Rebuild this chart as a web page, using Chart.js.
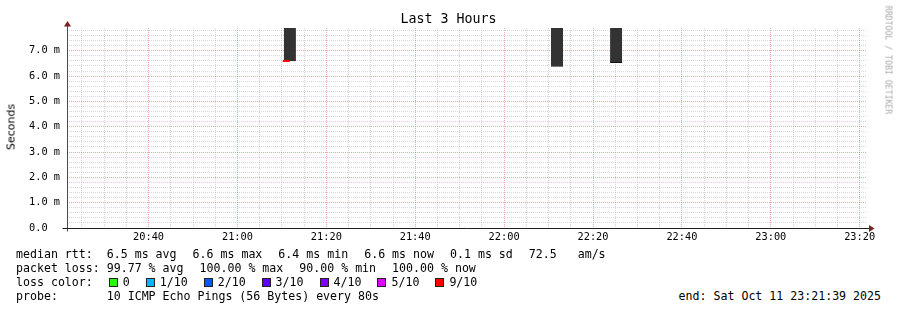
<!DOCTYPE html>
<html>
<head>
<meta charset="utf-8">
<title>Last 3 Hours</title>
<script src="https://cdn.jsdelivr.net/npm/chart.js@4.4.1/dist/chart.umd.min.js"></script>
<style>
  html, body { margin: 0; padding: 0; background: #fff; }
  #wrap { position: relative; width: 897px; height: 310px; overflow: hidden;
          font-family: "DejaVu Sans Mono", monospace; color: #000; }
  #plot { position: absolute; left: 0; top: 0; width: 897px; height: 250px; }
  #title { position: absolute; left: 0; top: 11px; width: 897px; text-align: center;
           font-size: 13.3px; line-height: 16px; white-space: pre; }
  #ylab { position: absolute; left: 11px; top: 127px; font-family: "DejaVu Sans", sans-serif;
          font-size: 11px; line-height: 13px; white-space: pre; color: #000;
          transform: translate(-50%, -50%) rotate(-90deg); }
  #mark { position: absolute; left: 888px; top: 60px; font-size: 8.2px; line-height: 9px;
          color: #a8a8a8; white-space: pre; transform: translate(-50%, -50%) rotate(90deg); }
  .row { position: absolute; left: 16px; display: flex; gap: 16px; font-size: 11.6px;
         line-height: 14px; white-space: pre; }
  .item { display: flex; align-items: center; }
  .box { width: 7px; height: 7px; border: 1px solid #222; margin-right: 5px; }
  #end { position: absolute; right: 16px; top: 289px; font-size: 11.6px; line-height: 14px; white-space: pre; }
</style>
</head>
<body>
<div id="wrap">
  <div id="plot"><canvas id="chart"></canvas></div>
  <div id="title">Last 3 Hours</div>
  <div id="ylab">Seconds</div>
  <div id="mark">RRDTOOL / TOBI OETIKER</div>
  <div class="row" id="rttRow" style="top:247px"></div>
  <div class="row" id="lossRow" style="top:261px"></div>
  <div class="row" id="colorRow" style="top:275px"></div>
  <div class="row" id="probeRow" style="top:289px"></div>
  <div id="end"></div>
</div>
<script>
// x values are minutes after 20:00, y values are seconds in ms
const X_MIN = 21 + 39 / 60;   // 20:21:39
const X_MAX = X_MIN + 180;    // 23:21:39
const Y_MAX = 7.9;

const X_TICK_VALUES = [40, 60, 80, 100, 120, 140, 160, 180, 200];
const X_TICK_LABELS = ["20:40","21:00","21:20","21:40","22:00","22:20","22:40","23:00","23:20"];
const Y_TICK_VALUES = [0, 1, 2, 3, 4, 5, 6, 7];
const Y_TICK_LABELS = ["0.0  ","1.0 m","2.0 m","3.0 m","4.0 m","5.0 m","6.0 m","7.0 m"];

// smoke (min..max of the pings in a step), top runs off the graph
const SMOKE_TIME = [71.8, 131.9, 145.2];
const SMOKE_LOW  = [6.6, 6.38, 6.53];
const SMOKE_HIGH = [8.0, 8.0, 8.0];
const SMOKE_EDGE = ["#333333", "#111111", "#111111"];

// median rtt, coloured by loss
const MEDIAN_TIME = [71.0];
const MEDIAN_RTT  = [6.6];
const MEDIAN_LOSS = ["#ff0000"];

const RTT_ITEMS  = ["median rtt:  6.5 ms avg", "6.6 ms max", "6.4 ms min", "6.6 ms now", "0.1 ms sd", "72.5   am/s"];
const LOSS_ITEMS = ["packet loss: 99.77 % avg", "100.00 % max", "90.00 % min", "100.00 % now"];
const LOSS_LEVELS = ["0", "1/10", "2/10", "3/10", "4/10", "5/10", "9/10"];
const LOSS_COLORS = ["#26ff00", "#00b8ff", "#0059ff", "#5e00ff", "#7e00ff", "#dd00ff", "#ff0000"];
const PROBE_TEXT = "probe:       10 ICMP Echo Pings (56 Bytes) every 80s";
const END_TEXT = "end: Sat Oct 11 23:21:39 2025";

// rrdtool style grid: drawn over the graph, half transparent
const MINOR = "rgba(143,143,143,0.36)";
const MAJOR = "rgba(222,79,79,0.5)";
const FONT = "DejaVu Sans Mono";

function fillRow(id, items) {
  const el = document.getElementById(id);
  items.forEach(t => {
    const s = document.createElement("span");
    s.textContent = t;
    el.appendChild(s);
  });
}

fillRow("rttRow", RTT_ITEMS);
fillRow("lossRow", LOSS_ITEMS);
fillRow("probeRow", [PROBE_TEXT]);
document.getElementById("end").textContent = END_TEXT;
(() => {
  const el = document.getElementById("colorRow");
  const head = document.createElement("span");
  head.textContent = "loss color:";
  el.appendChild(head);
  LOSS_LEVELS.forEach((lv, i) => {
    const it = document.createElement("span");
    it.className = "item";
    const b = document.createElement("span");
    b.className = "box";
    b.style.background = LOSS_COLORS[i];
    const t = document.createElement("span");
    t.textContent = lv;
    it.appendChild(b);
    it.appendChild(t);
    el.appendChild(it);
  });
})();

// axis lines with the little rrdtool arrows
const axisArrows = {
  id: "axisArrows",
  afterDraw(chart) {
    const { ctx, chartArea: a } = chart;
    const x0 = Math.round(a.left) + 0.5;
    const y0 = Math.round(a.bottom) + 0.5;
    ctx.save();
    ctx.lineWidth = 1;
    ctx.strokeStyle = "#4a4a4a";
    ctx.beginPath();
    ctx.moveTo(x0, y0 + 3);
    ctx.lineTo(x0, a.top - 2);
    ctx.stroke();
    ctx.strokeStyle = "#1f1f1f";
    ctx.beginPath();
    ctx.moveTo(x0 - 5, y0);
    ctx.lineTo(a.right + 3, y0);
    ctx.stroke();
    ctx.fillStyle = "#801f1f";
    ctx.beginPath();
    ctx.moveTo(x0, a.top - 7);
    ctx.lineTo(x0 - 3.5, a.top - 1.5);
    ctx.lineTo(x0 + 3.5, a.top - 1.5);
    ctx.closePath();
    ctx.fill();
    ctx.beginPath();
    ctx.moveTo(a.right + 7.5, y0);
    ctx.lineTo(a.right + 2, y0 - 3.5);
    ctx.lineTo(a.right + 2, y0 + 3.5);
    ctx.closePath();
    ctx.fill();
    ctx.restore();
  }
};

new Chart(document.getElementById("chart").getContext("2d"), {
  type: "bar",
  data: {
    datasets: [
      {
        type: "line",
        order: 0,
        data: MEDIAN_TIME.map((t, i) => ({ x: t, y: MEDIAN_RTT[i] })),
        showLine: false,
        pointStyle: "line",
        pointRadius: 3.5,
        pointHoverRadius: 3.5,
        pointBorderWidth: 2,
        pointBorderColor: MEDIAN_LOSS,
        clip: 0,
      },
      {
        order: 1,
        data: SMOKE_TIME.map((t, i) => ({ x: t, y: [SMOKE_LOW[i], SMOKE_HIGH[i]] })),
        backgroundColor: "#333333",
        borderColor: SMOKE_EDGE,
        borderWidth: { top: 0, right: 0, bottom: 1, left: 0 },
        borderSkipped: false,
        barThickness: 12,
        grouped: false,
        clip: 0,
      },
    ]
  },
  options: {
    responsive: true,
    maintainAspectRatio: false,
    animation: false,
    events: [],
    layout: { padding: { left: 0, right: 30, top: 28, bottom: 0 } },
    plugins: { legend: { display: false }, tooltip: { enabled: false }, title: { display: false } },
    scales: {
      x: {
        type: "linear",
        min: X_MIN,
        max: X_MAX,
        offset: false,
        z: 1,
        afterBuildTicks: (s) => {
          const ticks = [];
          for (let v = 25; v <= 200; v += 5) ticks.push({ value: v });
          s.ticks = ticks;
        },
        afterFit: (s) => { s.height = 22; },
        grid: {
          offset: false,
          drawTicks: false,
          color: (c) => (c.tick && c.tick.value % 20 === 0 ? MAJOR : MINOR),
        },
        border: { display: false, dash: [1, 1] },
        ticks: {
          autoSkip: false,
          maxRotation: 0,
          minRotation: 0,
          padding: 3.4,
          color: "#000",
          font: { family: FONT, size: 10.3 },
          callback: (v) => {
            const i = X_TICK_VALUES.indexOf(v);
            return i >= 0 ? X_TICK_LABELS[i] : "";
          },
        },
      },
      y: {
        type: "linear",
        min: 0,
        max: Y_MAX,
        z: 1,
        afterBuildTicks: (s) => {
          const ticks = [];
          for (let i = 0; i <= 39; i++) ticks.push({ value: i / 5 });
          s.ticks = ticks;
        },
        afterFit: (s) => { s.width = 67; },
        grid: {
          drawTicks: false,
          color: (c) => {
            if (!c.tick || c.tick.value === 0) return "rgba(0,0,0,0)";
            return Number.isInteger(c.tick.value) ? MAJOR : MINOR;
          },
        },
        border: { display: false, dash: [1, 1] },
        ticks: {
          autoSkip: false,
          padding: 7,
          color: "#000",
          font: { family: FONT, size: 10.3 },
          callback: (v) => {
            const i = Y_TICK_VALUES.indexOf(v);
            return i >= 0 ? Y_TICK_LABELS[i] : "";
          },
        },
      },
    },
  },
  plugins: [axisArrows],
});
</script>
</body>
</html>
